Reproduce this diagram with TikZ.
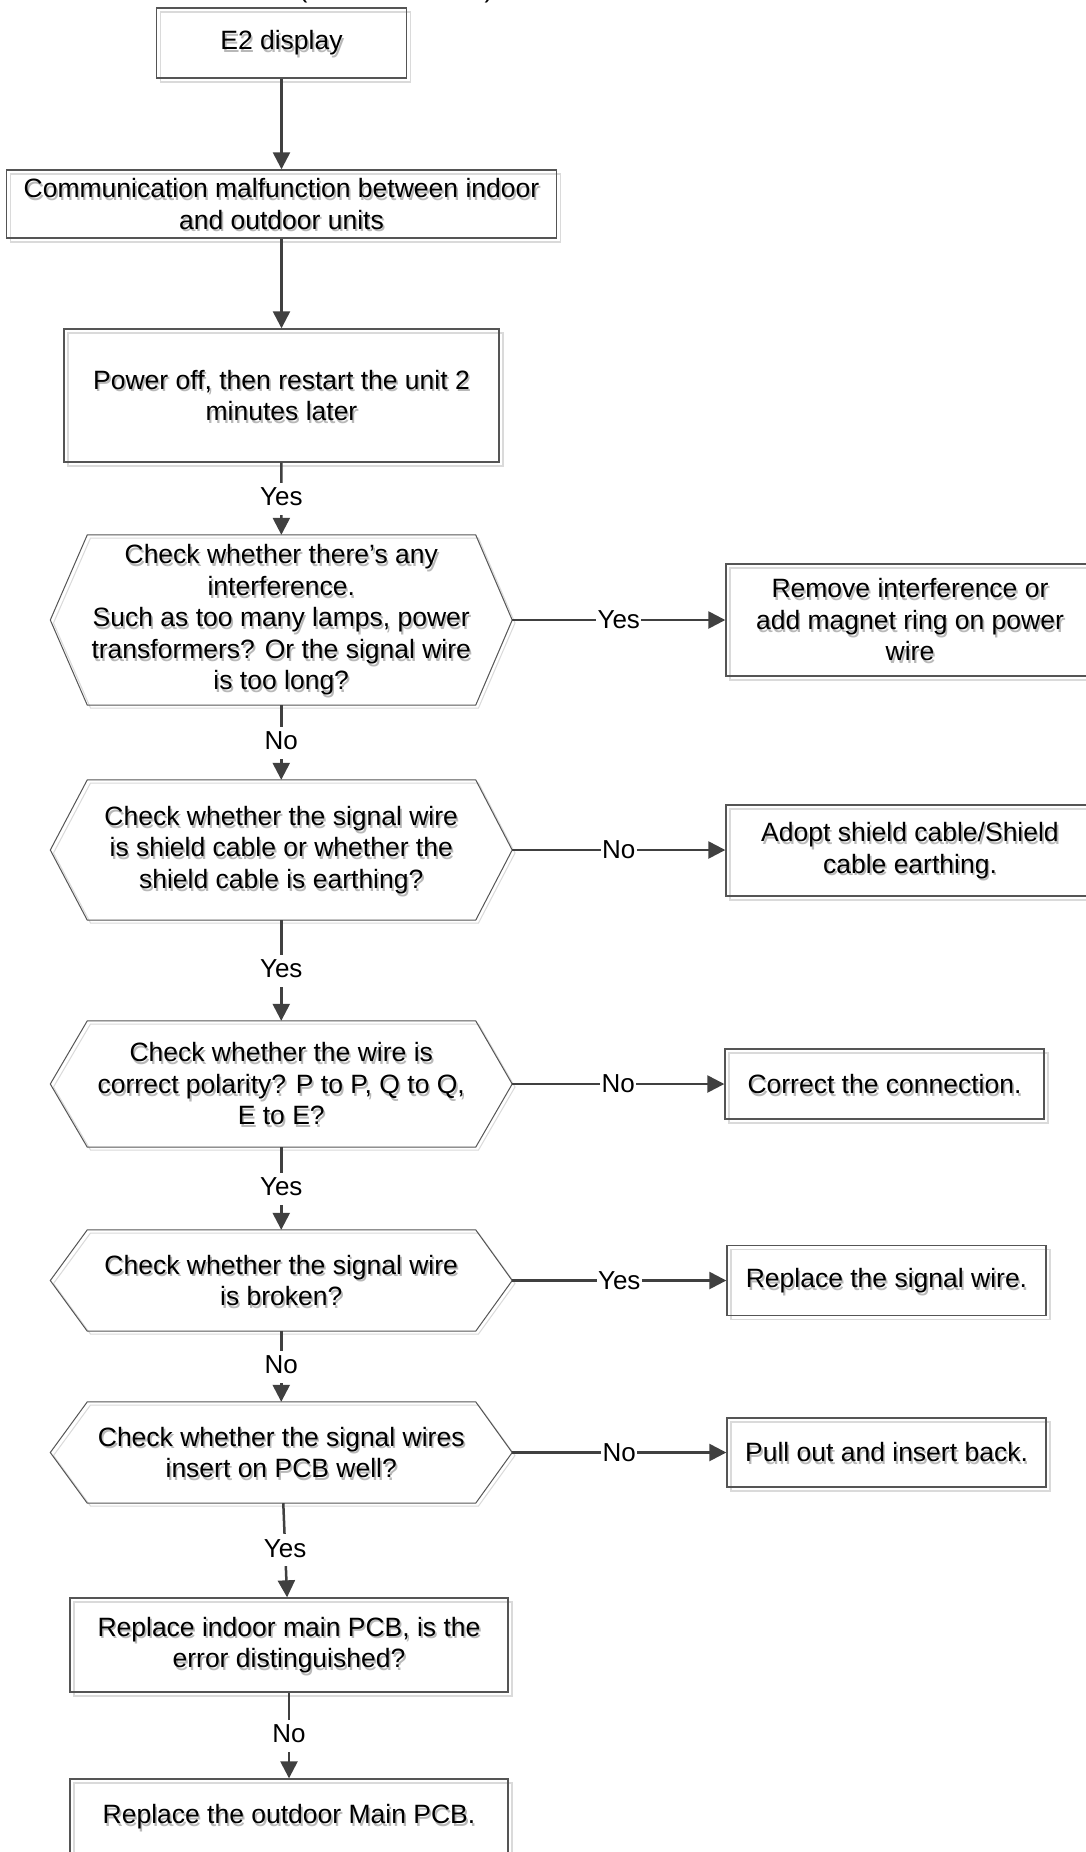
\documentclass[tikz,border=0pt]{standalone}
\usepackage{fontspec}
\setmainfont{Liberation Sans}
\usetikzlibrary{arrows.meta}
\definecolor{linec}{HTML}{404040}
\definecolor{boxc}{HTML}{555555}
\definecolor{shadc}{HTML}{DADADA}
\definecolor{txtshad}{HTML}{B8B8B8}
\tikzset{
  base/.style={font=\fontsize{26.5}{31.5}\selectfont, align=center, inner sep=0pt},
  conn/.style={draw=linec, line width=2.5pt, -{Triangle[length=17pt,width=17pt]}},
  lab/.style={fill=white, font=\fontsize{26}{31}\selectfont, inner xsep=2pt, inner ysep=4pt, text height=19pt, text depth=5pt},
  hlab/.style={fill=white, font=\fontsize{26}{31}\selectfont, inner xsep=1.5pt, inner ysep=2pt},
  boxline/.style={draw=boxc, line width=1.4pt},
  hexline/.style={draw=boxc, line width=1pt},
}
% name, x, y, w, h, text
\newcommand{\mkbox}[6]{%
  \draw[shadc, line width=1.4pt] (#2-#4/2+4,#3-#5/2+4) rectangle (#2+#4/2+4,#3+#5/2+4);
  \node[base, text=txtshad] at (#2+1.7,#3+2.7) {#6};
  \node[base, boxline, minimum width=#4pt, minimum height=#5pt] (#1) at (#2,#3) {#6};
}
% name, y, h, text
\newcommand{\mkhex}[4]{%
  \draw[shadc, line width=1pt] (90.5,#2-#3/2+3) -- (478.5,#2-#3/2+3) -- (515,#2+3) -- (478.5,#2+#3/2+3) -- (90.5,#2+#3/2+3) -- (53.5,#2+3) -- cycle;
  \node[base, text=txtshad] at (282.95,#2+2.7) {#4};
  \node[base, minimum width=461.5pt, minimum height=#3pt] (#1) at (281.25,#2) {#4};
  \draw[hexline] ([xshift=37pt]#1.north west) -- ([xshift=-36.5pt]#1.north east) -- (#1.east) -- ([xshift=-36.5pt]#1.south east) -- ([xshift=37pt]#1.south west) -- (#1.west) -- cycle;
}
\begin{document}
\begin{tikzpicture}[x=1pt,y=-1pt]
\fill[white] (0,0) rectangle (1085,1852);
\useasboundingbox (0,0) rectangle (1085,1852);

\node[base, anchor=base] (tpl) at (303,-2.5) {(};
\node[base, anchor=base] (tpr) at (489,-2.5) {)};

\mkbox{e2}{281.5}{43}{250}{70}{E2 display}
\mkbox{comm}{281.5}{204}{550}{68}{Communication malfunction between indoor\\and outdoor units}
\mkbox{power}{281.5}{395.5}{435}{133}{Power off, then restart the unit 2\\minutes later}

\mkhex{hexa}{620}{170}{Check whether there’s any\\interference.\\Such as too many lamps, power\\transformers? Or the signal wire\\is too long?}
\mkhex{hexb}{850}{140}{Check whether the signal wire\\is shield cable or whether the\\shield cable is earthing?}
\mkhex{hexc}{1084}{126}{Check whether the wire is\\correct polarity? P to P, Q to Q,\\E to E?}
\mkhex{hexd}{1280.5}{101}{Check whether the signal wire\\is broken?}
\mkhex{hexe}{1452.5}{101}{Check whether the signal wires\\insert on PCB well?}

\mkbox{indoor}{289}{1645}{438}{94}{Replace indoor main PCB, is the\\error distinguished?}
\mkbox{outdoor}{289}{1817}{438}{76}{Replace the outdoor Main PCB.}

\mkbox{remove}{910}{620}{368}{112}{Remove interference or\\add magnet ring on power\\wire}
\mkbox{adopt}{910}{850.5}{368}{91}{Adopt shield cable/Shield\\cable earthing.}
\mkbox{correct}{884.5}{1084}{319}{70}{Correct the connection.}
\mkbox{replwire}{886.5}{1280.5}{319}{70}{Replace the signal wire.}
\mkbox{pullout}{886.5}{1452.5}{319}{69}{Pull out and insert back.}

\draw[conn] (e2) -- (comm);
\draw[conn] (comm) -- (power);
\draw[conn] (power) -- node[lab]{Yes} (hexa);
\draw[conn] (hexa) -- node[lab]{No} (hexb);
\draw[conn] (hexb) -- node[lab]{Yes} (hexc);
\draw[conn] (hexc) -- node[lab]{Yes} (hexd);
\draw[conn] (hexd) -- node[lab]{No} (hexe);
\draw[conn] (hexe) -- node[lab]{Yes} (indoor);
\draw[conn] (indoor) -- node[lab]{No} (outdoor);

\draw[conn] (hexa.east) -- node[hlab]{Yes} (hexa.east -| remove.west);
\draw[conn] (hexb.east) -- node[hlab]{No} (hexb.east -| adopt.west);
\draw[conn] (hexc.east) -- node[hlab]{No} (hexc.east -| correct.west);
\draw[conn] (hexd.east) -- node[hlab]{Yes} (hexd.east -| replwire.west);
\draw[conn] (hexe.east) -- node[hlab]{No} (hexe.east -| pullout.west);
\end{tikzpicture}
\end{document}
